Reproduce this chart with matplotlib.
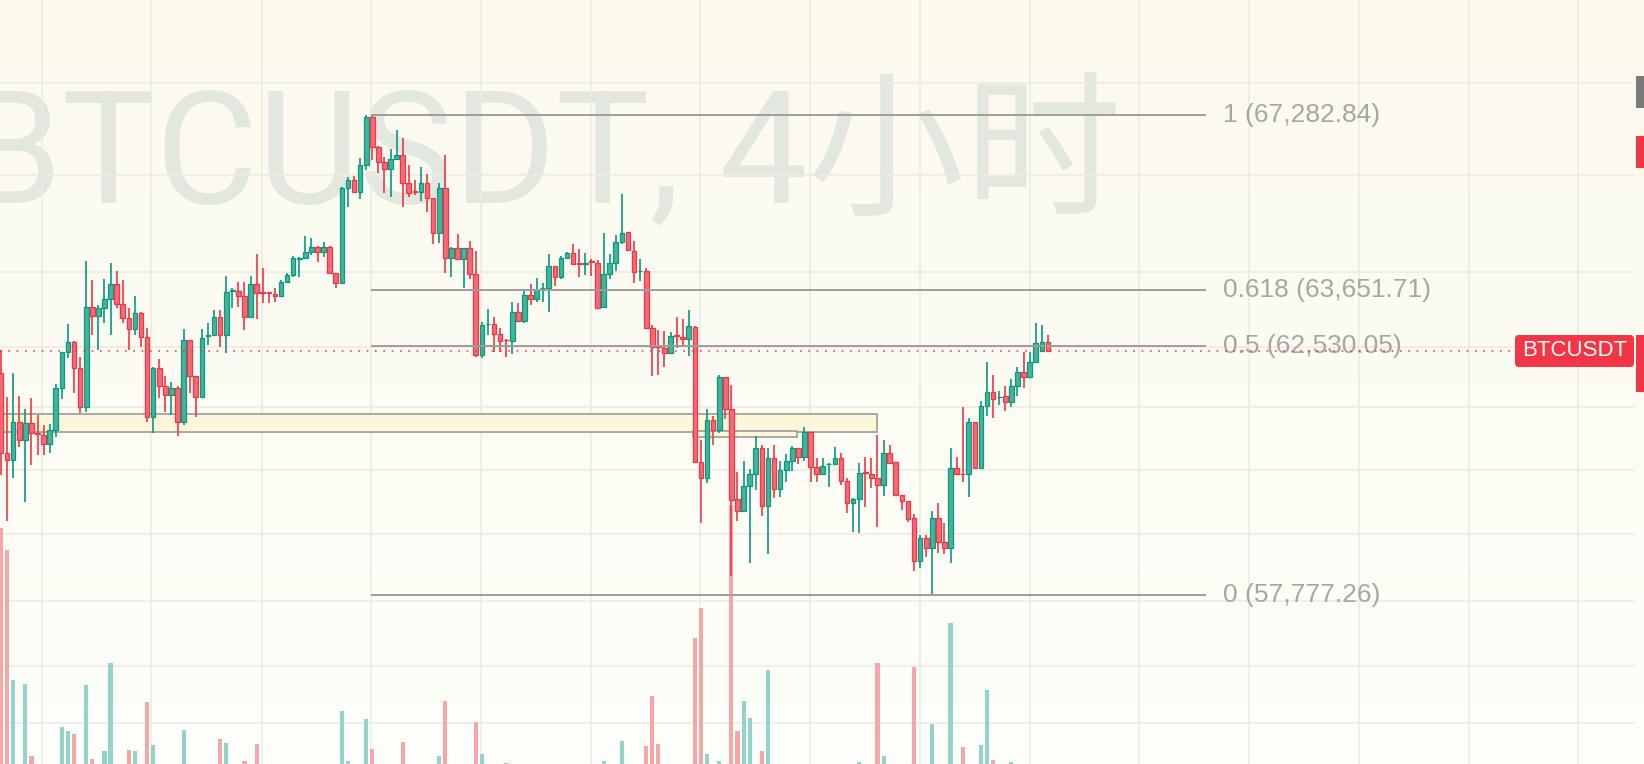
import numpy as np
import matplotlib
matplotlib.use("Agg")
import matplotlib.pyplot as plt
from matplotlib.patches import Rectangle, FancyBboxPatch
from matplotlib.transforms import IdentityTransform

# ---------------- data (BTCUSDT 4h) ----------------
opens = [61990, 60435, 60301, 61039, 60685, 61008, 60820, 60781, 60602, 60878,
         61690, 62400, 62611, 62084, 61331, 63311, 63124, 63279, 63460, 63770,
         63366, 63078, 62858, 63179, 62699, 61136, 62084, 61735, 61559, 61690,
         61033, 62639, 61932, 61520, 62725, 62744, 63098, 62744, 63625, 63634,
         63527, 63098, 63770, 63600, 63600, 63561, 63527, 63816, 63952, 64285,
         64293, 64428, 64531, 64428, 64531, 63999, 63796, 65740, 65913, 65656,
         66227, 67250, 66615, 66297, 66137, 66348, 66439, 65857, 65675, 65669,
         65844, 65531, 64805, 65740, 64293, 64498, 64278, 64498, 63967, 62347,
         62955, 62958, 62758, 62650, 62625, 63199, 63024, 63547, 63460, 63690,
         63695, 64142, 63918, 64293, 64408, 64195, 64185, 64228, 64191, 63299,
         63967, 64191, 64633, 64826, 64449, 64028, 64034, 62878, 62518, 62480,
         62381, 62735, 62711, 62665, 62910, 60257, 59950, 61072, 60878, 61906,
         61280, 59552, 59331, 59805, 60027, 60526, 59426, 60334, 59748, 60109,
         60288, 60537, 60353, 60834, 60173, 60032, 60218, 60224, 60334, 59893,
         59477, 59558, 60070, 60032, 59950, 59823, 60430, 60257, 59634, 59520,
         59193, 58401, 58819, 58632, 59193, 58755, 58632, 60141, 60038, 60028,
         61039, 60141, 61350, 61612, 61522, 61546, 61429, 61741, 62017, 61906,
         62203, 62420, 62611]
highs = [62446, 61520, 61991, 61540, 61286, 61495, 61169, 60975, 60994, 61775,
         62406, 62964, 62620, 62313, 64238, 63851, 63346, 63871, 64203, 64034,
         63851, 63279, 63527, 63211, 62878, 62115, 62262, 61932, 61814, 61745,
         62858, 62650, 61935, 62858, 62990, 63245, 63245, 63932, 63683, 63816,
         63816, 63932, 64381, 64089, 63605, 63683, 63851, 63987, 64340, 64326,
         64750, 64703, 64535, 64633, 64535, 64003, 65773, 65969, 65997, 66369,
         67282.84, 67270, 66620, 66403, 66560, 66969, 66792, 66227, 65913, 66179,
         66032, 65535, 65844, 66439, 64531, 64791, 64500, 64647, 64443, 62998,
         63259, 63098, 62878, 62655, 63400, 63380, 63662, 63764, 63886, 63784,
         64381, 64145, 64340, 64428, 64580, 64477, 64408, 64278, 64258, 64805,
         64381, 64770, 65620, 64838, 64647, 64272, 64089, 62944, 62844, 62830,
         62810, 63110, 63058, 63245, 62915, 60685, 61280, 61150, 61951, 61910,
         61755, 60065, 60282, 60122, 60762, 60589, 60526, 60589, 60282, 60416,
         60570, 60540, 60930, 60838, 60334, 60334, 60249, 60557, 60441, 59950,
         59571, 60238, 60365, 60334, 60782, 60685, 60589, 60260, 59636, 59522,
         59268, 58880, 58880, 59331, 59477, 59111, 60526, 60365, 61319, 61117,
         61042, 61442, 62203, 61951, 61643, 61735, 61867, 62115, 62412, 62412,
         62978, 62944, 62745]
lows = [60014, 59142, 59950, 60545, 59507, 60205, 60397, 60397, 60441, 60749,
        61481, 62282, 61593, 61202, 61233, 62744, 62446, 62990, 62744, 63279,
        62978, 62446, 62744, 62512, 61039, 60814, 61501, 61233, 61169, 60772,
        60969, 61604, 61130, 61515, 62546, 62740, 62512, 62381, 63279, 63311,
        62844, 63095, 63058, 63392, 63392, 63412, 63513, 63796, 63918, 63918,
        64288, 64361, 64223, 64326, 63995, 63683, 63790, 65356, 65635, 65510,
        66122, 66333, 66066, 65648, 65564, 66345, 65356, 65564, 65600, 65480,
        65252, 64580, 64600, 63999, 63918, 64275, 63695, 63871, 62301, 62282,
        62744, 62400, 62400, 62313, 62361, 63020, 62978, 63346, 63400, 63412,
        63199, 63735, 63865, 64278, 64168, 63906, 63952, 63938, 63265, 63295,
        63871, 64034, 64580, 64460, 63796, 63831, 62875, 61935, 61951, 62115,
        62367, 62480, 62532, 62337, 60250, 59111, 59867, 60589, 60814, 61086,
        58109, 59142, 59328, 58353, 59729, 59237, 58520, 59571, 59590, 59886,
        60096, 60218, 60288, 59874, 59874, 60014, 59780, 60220, 59829, 59288,
        58931, 58912, 59412, 59761, 59025, 59615, 60248, 59630, 59350, 59130,
        58216, 58260, 58464, 57777.26, 58539, 58520, 58353, 60030, 59886, 59602,
        60138, 60138, 61155, 61117, 61364, 61252, 61331, 61540, 61690, 61903,
        62200, 62410, 62430]
closes = [60435, 60301, 61039, 60685, 61008, 60814, 60800, 60602, 60878, 61690,
          62400, 62611, 62084, 61331, 63311, 63124, 63279, 63460, 63770, 63366,
          63078, 62858, 63179, 62699, 61136, 62084, 61735, 61559, 61690, 61033,
          62645, 61932, 61520, 62679, 62744, 63098, 62744, 63602, 63642, 63527,
          63098, 63770, 63593, 63593, 63590, 63527, 63816, 63952, 64293, 64295,
          64428, 64531, 64428, 64531, 63999, 63796, 65740, 65913, 65656, 66227,
          67250, 66615, 66297, 66137, 66348, 66439, 65857, 65648, 65665, 65844,
          65531, 64805, 65740, 64293, 64498, 64278, 64498, 63967, 62347, 62944,
          62964, 62758, 62625, 62640, 63199, 63024, 63547, 63460, 63648, 63695,
          64142, 63918, 64293, 64408, 64170, 64185, 64191, 64220, 63279, 63967,
          64191, 64633, 64818, 64463, 64007, 64034, 62878, 62512, 62510, 62381,
          62715, 62725, 62665, 62918, 60257, 59950, 61072, 60878, 61906, 61280,
          59539, 59331, 59805, 60027, 60526, 59426, 60334, 59748, 60109, 60288,
          60537, 60353, 60834, 60173, 60032, 60192, 60224, 60334, 59893, 59477,
          59558, 60046, 60060, 59950, 59823, 60430, 60250, 59634, 59520, 59180,
          58401, 58819, 58632, 59193, 58755, 58632, 60141, 60032, 60028, 61039,
          60141, 61350, 61612, 61476, 61527, 61429, 61741, 62017, 61906, 62203,
          62579, 62611, 62432]
volumes = [27200, 25000, 12000, 3000, 11600, 4400, 2800, 3000, 3200, 3400,
           7300, 6900, 6600, 3300, 11500, 4100, 2900, 4900, 13700, 3300,
           3100, 5000, 4900, 3000, 9800, 5500, 3300, 3000, 2600, 3400,
           7000, 3400, 3200, 3500, 2400, 2600, 6100, 5700, 2200, 2500,
           3900, 3300, 5600, 2800, 1800, 1900, 2300, 2000, 2600, 1900,
           2700, 2100, 1800, 2200, 2900, 3100, 8900, 3900, 2800, 3500,
           8100, 5100, 3200, 2900, 3100, 2700, 5800, 3300, 2400, 2600,
           3000, 3200, 4400, 9900, 3000, 2700, 3100, 2900, 7800, 4600,
           2800, 3100, 2600, 3700, 3400, 2500, 2900, 2300, 2600, 2100,
           3200, 2400, 2700, 2000, 2300, 2200, 1900, 2100, 3500, 3900,
           2900, 3300, 5900, 3100, 3400, 2500, 5400, 10400, 5600, 3200,
           2900, 2600, 2400, 3400, 16200, 19200, 4600, 3300, 3900, 3500,
           29500, 6900, 9900, 8200, 3500, 4900, 13000, 3400, 2900, 2600,
           2800, 2300, 3000, 3300, 2700, 2400, 2500, 2600, 3200, 3400,
           3100, 3800, 3000, 2700, 13700, 4400, 3000, 3300, 2800, 3200,
           13300, 3500, 3100, 7600, 3400, 3200, 17700, 3100, 5300, 3500,
           3300, 5500, 11000, 4000, 2600, 2900, 3800, 3300, 3100, 3000,
           3400, 2800, 1500]

fib_prices = [67282.84, 63651.71, 62530.05, 57777.26]
fib_labels = ["1 (67,282.84)", "0.618 (63,651.71)", "0.5 (62,530.05)", "0 (57,777.26)"]
symbol = "BTCUSDT"
watermark = "BTCUSDT, 4小时"
zone_main = (60840, 61189)     # bottom, top
zone_small = (60745, 60865)
grid_prices = [67980, 66009, 64014, 62506, 61325, 60109, 58899, 57658, 56479, 55465]
grid_bars = [6.7, 24.7, 42.8, 60.8, 78.8, 96.9, 114.9, 132.9, 151.0, 169.0,
             187.0, 205.0, 223.1, 241.1, 259.1]

# ---------------- layout / style ----------------
W, H = 1644, 764
XLIM = (-0.164, 269.93)
YLIM = (54747, 69794)
PLOT_RIGHT = 1634 / W
GREEN, RED = "#089981", "#F23645"
GREEN_FILL, RED_FILL = "#45B39B", "#F46B77"
VOL_GREEN, VOL_RED = "#93D4CA", "#F5A7A7"

fig = plt.figure(figsize=(W / 100, H / 100), dpi=100)

# background gradient + grid + watermark
ax_g = fig.add_axes([0, 0, 1, 1])
grad = np.linspace(0, 1, 256).reshape(-1, 1)
top = np.array([252, 250, 237]) / 255
bot = np.array([254, 254, 250]) / 255
img = top[None, None, :] * (1 - grad[..., None]) + bot[None, None, :] * grad[..., None]
ax_g.imshow(img, extent=(0, 1, 0, 1), transform=ax_g.transAxes, aspect="auto", zorder=0)
ax_g.set_yscale("log")
ax_g.set_xlim(*XLIM)
ax_g.set_ylim(*YLIM)
ax_g.axis("off")
ax_g.text(-36 / W, 1 - 203 / H, watermark, transform=fig.transFigure,
          fontsize=113, family=["Roboto", "Noto Sans CJK SC"], color="#E2E8DF",
          ha="left", va="baseline", zorder=1)
for gp in grid_prices:
    ax_g.axhline(gp, xmin=0, xmax=PLOT_RIGHT, color="#ECEBE2", lw=1.1, zorder=2)
for gx in grid_bars:
    ax_g.axvline(gx, color="#ECEBE2", lw=1.1, zorder=2)

# volume
x = np.arange(len(opens))
up = np.array(closes) >= np.array(opens)
ax_v = fig.add_axes([0, 0, 1, 1], zorder=1)
ax_v.patch.set_alpha(0)
ax_v.bar(x, volumes, width=0.68, color=[VOL_GREEN if u else VOL_RED for u in up], linewidth=0)
ax_v.set_xlim(*XLIM)
ax_v.set_ylim(3600, 80000)
ax_v.axis("off")

# price
ax = fig.add_axes([0, 0, 1, 1], zorder=2)
ax.patch.set_alpha(0)
ax.set_yscale("log")
ax.set_xlim(*XLIM)
ax.set_ylim(*YLIM)
ax.axis("off")

ax.add_patch(Rectangle((-5, zone_main[0]), 143.9 + 5, zone_main[1] - zone_main[0],
                       facecolor="#FCF6DA", edgecolor="#A2A2A2", lw=1.3, zorder=1))
ax.add_patch(Rectangle((113.7, zone_small[0]), 130.8 - 113.7, zone_small[1] - zone_small[0],
                       facecolor="#FCF6DA", edgecolor="#A2A2A2", lw=1.3, zorder=1.1))

edge = [GREEN if u else RED for u in up]
fill = [GREEN_FILL if u else RED_FILL for u in up]
o = np.array(opens, float)
c = np.array(closes, float)
ax.vlines(x, lows, highs, colors=edge, linewidth=1.2, zorder=3)
ax.bar(x, np.abs(c - o), bottom=np.minimum(o, c), width=0.76, color=fill,
       edgecolor=edge, linewidth=0.9, zorder=4)

# fibonacci retracement
ax.hlines(fib_prices, 60.8, 198.0, colors="#9D9D9D", lw=1.4, zorder=5)
for p, lab in zip(fib_prices, fib_labels):
    ax.text(200.8, p, lab, ha="left", va="center", fontsize=19,
            family="Liberation Sans", color="#A6A6A6", zorder=5)

# last price line
ax.axhline(closes[-1], xmin=0, xmax=1515 / W, color=RED, alpha=0.75, lw=1.5,
           ls=(0, (0.8, 3.2)), zorder=6)

# price label and right-edge markers
fig.add_artist(FancyBboxPatch((1515, H - 367), 119, 32,
                              boxstyle="round,pad=0,rounding_size=4",
                              transform=IdentityTransform(), fc=RED, ec="none"))
fig.text(1574.5 / W, 1 - 351 / H, symbol, ha="center", va="center", color="white",
         fontsize=16, family="Liberation Sans")
fig.add_artist(Rectangle((1636 / W, 1 - 108 / H), 8 / W, 32 / H,
                         transform=fig.transFigure, fc="#7A7A7A", ec="none"))
fig.add_artist(Rectangle((1636 / W, 1 - 168 / H), 8 / W, 32 / H,
                         transform=fig.transFigure, fc=RED, ec="none"))
fig.add_artist(Rectangle((1636 / W, 1 - 392 / H), 8 / W, 57 / H,
                         transform=fig.transFigure, fc=RED, ec="none"))

fig.savefig("out.png", dpi=100)
